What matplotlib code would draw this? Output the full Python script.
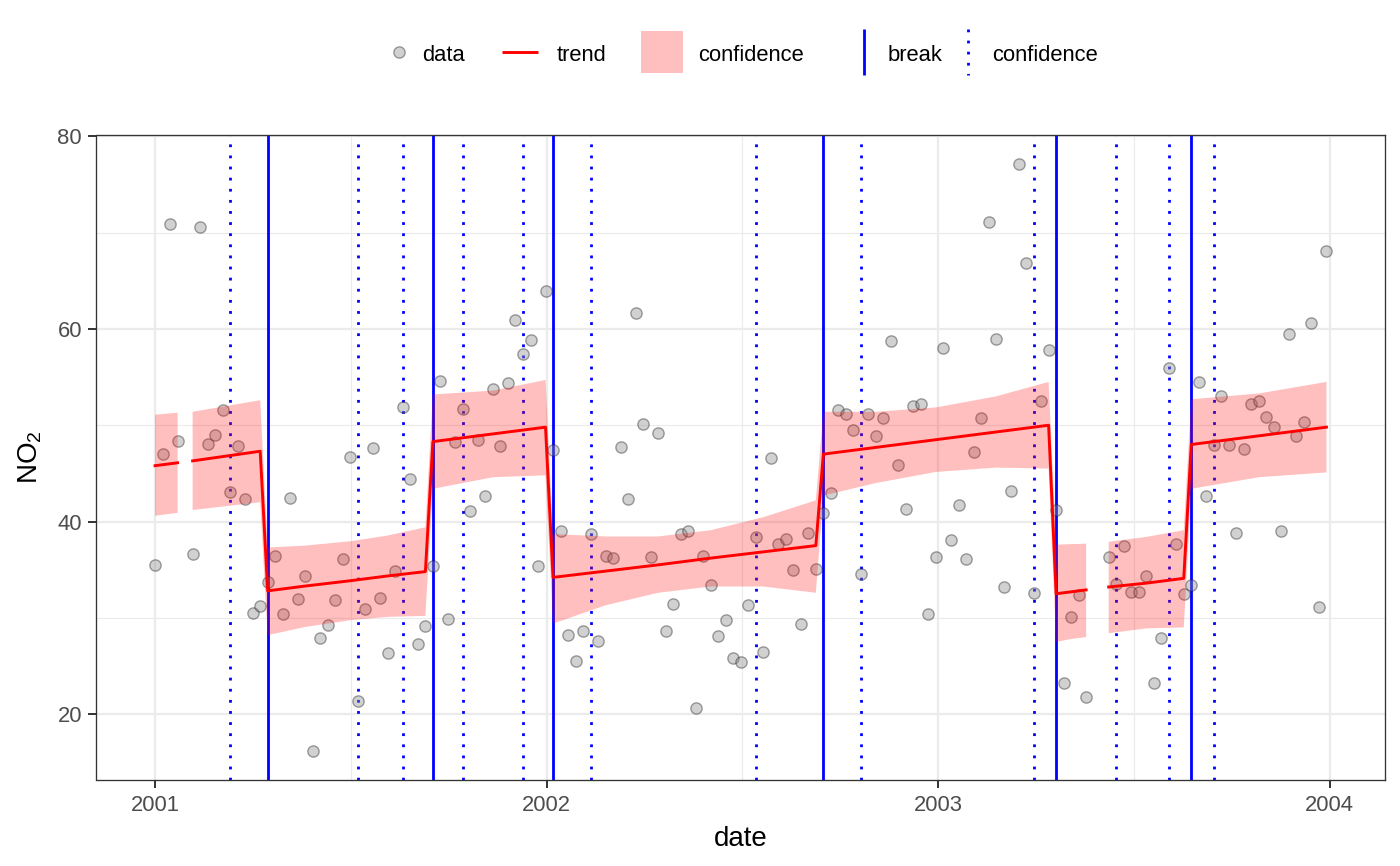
import numpy as np
import matplotlib
matplotlib.use("Agg")
import matplotlib.pyplot as plt
import matplotlib.dates as mdates
from matplotlib.ticker import FixedLocator, FixedFormatter, NullFormatter
from matplotlib.patches import Rectangle

plt.rcParams["font.family"] = ["Liberation Sans", "DejaVu Sans"]
plt.rcParams["mathtext.fontset"] = "custom"
plt.rcParams["mathtext.rm"] = "Liberation Sans"
plt.rcParams["mathtext.it"] = "Liberation Sans:italic"

# ---------------- data ----------------
start_date = "2001-01-01"          # first weekly observation
# weekly NO2 observations (nan = missing week)
no2 = [35.5, 47.0, 70.9, 48.4, np.nan, 36.6, 70.6, 48.1, 49.0, 51.6,
       43.1, 47.8, 42.3, 30.5, 31.2, 33.7, 36.4, 30.4, 42.4, 32.0,
       34.3, 16.2, 27.9, 29.3, 31.8, 36.1, 46.7, 21.4, 30.9, 47.6,
       32.1, 26.3, 34.9, 51.9, 44.4, 27.3, 29.2, 35.4, 54.6, 29.9,
       48.3, 51.7, 41.1, 48.5, 42.6, 53.8, 47.8, 54.4, 60.9, 57.4,
       58.9, 35.4, 63.9, 47.4, 39.0, 28.2, 25.5, 28.6, 38.7, 27.6,
       36.4, 36.2, 47.7, 42.3, 61.7, 50.1, 36.3, 49.2, 28.6, 31.4,
       38.7, 39.0, 20.6, 36.4, 33.4, 28.1, 29.8, 25.8, 25.4, 31.3,
       38.4, 26.4, 46.6, 37.7, 38.2, 35.0, 29.4, 38.8, 35.1, 40.9,
       43.0, 51.6, 51.2, 49.5, 34.6, 51.2, 48.9, 50.8, 58.8, 45.9,
       41.3, 52.0, 52.2, 30.4, 36.3, 58.0, 38.1, 41.7, 36.1, 47.2,
       50.8, 71.1, 59.0, 33.2, 43.2, 77.1, 66.9, 32.6, 52.5, 57.8,
       41.2, 23.2, 30.1, 32.4, 21.8, np.nan, np.nan, 36.3, 33.5, 37.5,
       32.7, 32.7, 34.3, 23.2, 27.9, 55.9, 37.7, 32.5, 33.4, 54.5,
       42.7, 48.0, 53.0, 48.0, 38.8, 47.5, 52.2, 52.5, 50.9, 49.8,
       39.0, 59.5, 48.9, 50.3, 60.6, 31.1, 68.1]

# fitted trend with confidence band (week index of the vertices)
fit_week = [0, 3, 4, 5, 14,
            15, 20, 26, 31, 36,
            37, 45, 52,
            53, 60, 67, 74, 81, 88,
            89, 96, 104, 112, 119,
            120, 122, 124, 125, 127, 132, 137,
            138, 147, 156]
fit_trend = [45.8, 46.1, np.nan, 46.3, 47.3,
             32.8, 33.3, 33.85, 34.35, 34.8,
             48.3, 49.1, 49.8,
             34.2, 34.85, 35.5, 36.2, 36.85, 37.5,
             47.0, 47.7, 48.5, 49.3, 50.0,
             32.5, 32.7, 32.9, np.nan, 33.2, 33.6, 34.1,
             48.0, 48.9, 49.8]
fit_lower = [40.6, 40.9, np.nan, 41.2, 42.0,
             28.2, 29.05, 29.75, 30.1, 30.2,
             43.4, 44.6, 44.8,
             29.4, 31.3, 32.6, 33.25, 33.25, 32.6,
             42.7, 44.0, 45.15, 45.6, 45.5,
             27.5, 27.8, 28.0, np.nan, 28.4, 28.9, 29.0,
             43.4, 44.6, 45.1]
fit_upper = [51.1, 51.3, np.nan, 51.4, 52.6,
             37.3, 37.5, 37.95, 38.55, 39.4,
             53.2, 53.6, 54.7,
             38.7, 38.45, 38.45, 39.1, 40.45, 42.2,
             51.4, 51.4, 51.85, 53.0, 54.5,
             37.6, 37.65, 37.7, np.nan, 37.9, 38.4, 39.1,
             52.7, 53.3, 54.5]

break_week = [15, 37, 53, 89, 120, 138]
break_ci_week = [10, 27, 33, 41, 49, 58, 80, 94, 117, 128, 135, 141]

year_ticks = ["2001", "2002", "2003", "2004"]
year_minor = ["2001-07-02T12:00", "2002-07-02T12:00", "2003-07-02T12:00"]
y_major = [20, 40, 60, 80]
y_minor = [30, 50, 70]

# ---------------- helpers ----------------
t0 = mdates.date2num(np.datetime64(start_date))


def week_to_num(w):
    return t0 + np.asarray(w, dtype=float) * 7.0


obs_x = week_to_num(np.arange(len(no2)))
obs_y = np.asarray(no2, dtype=float)

# ---------------- figure ----------------
W, H = 1400, 866
fig = plt.figure(figsize=(W / 100, H / 100), dpi=100)
ax = fig.add_axes([96.5 / W, (H - 780) / H, 1288.5 / W, 645 / H])

# limits with 5% expansion (ggplot default)
xr = obs_x.max() - obs_x.min()
ax.set_xlim(obs_x.min() - 0.05 * xr, obs_x.max() + 0.05 * xr)
ymin, ymax = np.nanmin(obs_y), np.nanmax(obs_y)
yr = ymax - ymin
ax.set_ylim(ymin - 0.05 * yr, ymax + 0.05 * yr)

# grid
major_x = [mdates.date2num(np.datetime64(y + "-01-01")) for y in year_ticks]
minor_x = [mdates.date2num(np.datetime64(d)) for d in year_minor]
ax.xaxis.set_major_locator(FixedLocator(major_x))
ax.xaxis.set_major_formatter(FixedFormatter(year_ticks))
ax.xaxis.set_minor_locator(FixedLocator(minor_x))
ax.xaxis.set_minor_formatter(NullFormatter())
ax.yaxis.set_major_locator(FixedLocator(y_major))
ax.yaxis.set_minor_locator(FixedLocator(y_minor))
ax.set_axisbelow(True)
ax.grid(which="major", color="#EBEBEB", linewidth=1.6)
ax.grid(which="minor", color="#EBEBEB", linewidth=0.8)

for s in ax.spines.values():
    s.set_color("#333333")
    s.set_linewidth(0.95)

ax.tick_params(which="major", length=5.5, width=1.4, color="#333333",
               labelsize=15.8, labelcolor="#4D4D4D", pad=5.0)
ax.tick_params(which="minor", length=0)

# break lines
blue = "#0000FF"
dot_style = (0, (1, 3))
for w in break_ci_week:
    ax.axvline(week_to_num(w), color=blue, linewidth=2.0, linestyle=dot_style,
               zorder=1.5)
for w in break_week:
    ax.axvline(week_to_num(w), color=blue, linewidth=2.0, zorder=1.5)

# data points
pt_face = (0.55, 0.55, 0.55, 0.4)
pt_edge = (0.15, 0.15, 0.15, 0.42)
ax.scatter(obs_x, obs_y, s=66, facecolor=pt_face, edgecolor=pt_edge,
           linewidth=1.0, zorder=2)

# confidence band & trend
fx = week_to_num(fit_week)
ax.fill_between(fx, fit_lower, fit_upper, color="#FF0000", alpha=0.25,
                linewidth=0, zorder=3)
ax.plot(fx, fit_trend, color="#FF0000", linewidth=2.1, zorder=4)

# axis titles
ax.set_xlabel("date", fontsize=20, color="black")
ax.xaxis.set_label_coords(0.5, (780 - 845.7) / 645)
ax.xaxis.label.set_va("baseline")
ax.set_ylabel(r"NO$_2$", fontsize=20, color="black")
ax.yaxis.set_label_coords((30 - 96.5) / 1288.5, 0.5)
ax.yaxis.label.set_va("center")

# ---------------- legend (top, drawn in pixel space) ----------------
lax = fig.add_axes([0, 0, 1, 1], facecolor="none")
lax.set_xlim(0, W)
lax.set_ylim(H, 0)
lax.axis("off")
txt_kw = dict(fontsize=15.8, color="black", va="baseline", ha="left")
base = 60.7

lax.scatter([399], [52.3], s=66, facecolor=pt_face, edgecolor=pt_edge,
            linewidth=1.0)
lax.text(422, base, "data", **txt_kw)
lax.plot([502, 538], [51.7, 51.7], color="#FF0000", linewidth=2.1,
         solid_capstyle="butt")
lax.text(556.5, base, "trend", **txt_kw)
lax.add_patch(Rectangle((641, 31), 42, 42, facecolor="#FF0000", alpha=0.25,
                        linewidth=0))
lax.text(698.3, base, "confidence", **txt_kw)
lax.plot([863.7, 863.7], [29, 75], color=blue, linewidth=2.0,
         solid_capstyle="butt")
lax.text(887.7, base, "break", **txt_kw)
lax.plot([968.3, 968.3], [29, 75], color=blue, linewidth=2.0,
         linestyle=dot_style)
lax.text(992.3, base, "confidence", **txt_kw)

fig.savefig("out.png", dpi=100, facecolor="white")
